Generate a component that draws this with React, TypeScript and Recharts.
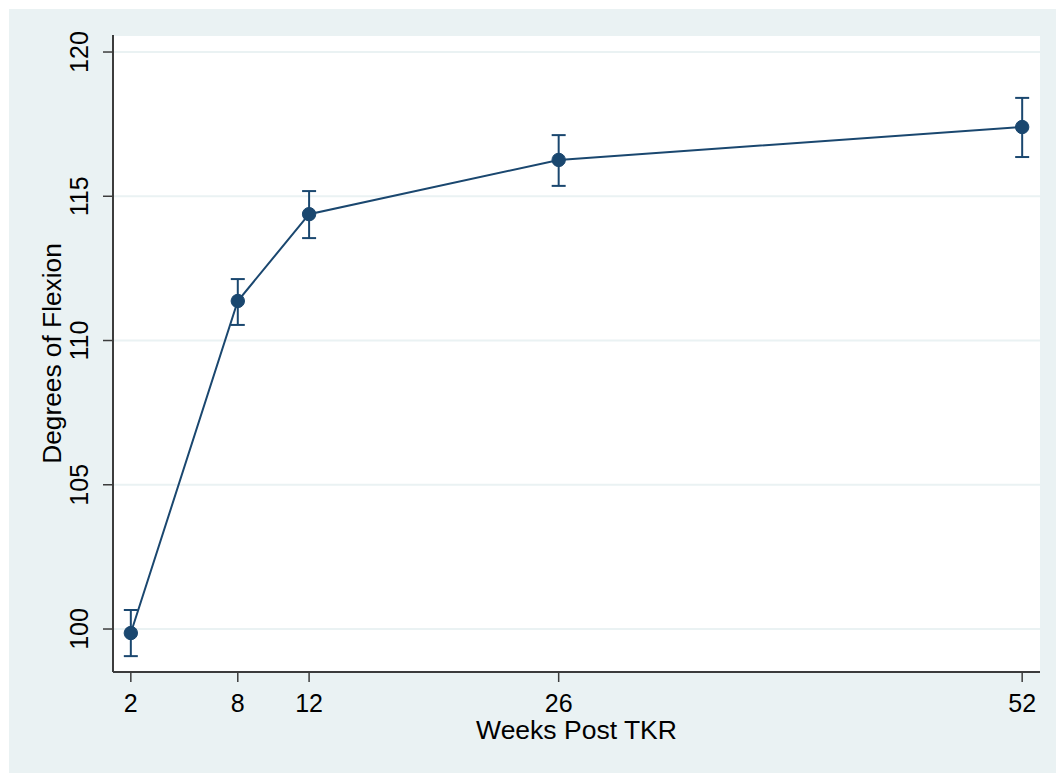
import { ComposedChart, Line, XAxis, YAxis, CartesianGrid, ErrorBar } from 'recharts';

// weeks after surgery and mean flexion with 95% CI
const weeks = [2, 8, 12, 26, 52];
const flexion = [99.86, 111.37, 114.38, 116.26, 117.4];
const ciLow = [99.06, 110.54, 113.55, 115.36, 116.36];
const ciHigh = [100.66, 112.13, 115.18, 117.12, 118.41];

const yTicks = [100, 105, 110, 115, 120];

const NAVY = '#1a476f';
const PANEL = '#eaf2f3';
const AXIS = '#3c3c3c';
const FONT = '"Liberation Sans", Arial, Helvetica, sans-serif';

const data = weeks.map((w, i) => ({
  week: w,
  mean: flexion[i],
  err: [flexion[i] - ciLow[i], ciHigh[i] - flexion[i]],
}));

const XTick = (props: any) => {
  const { x, y, payload } = props;
  return (
    <text x={x} y={y + 28} textAnchor="middle" fontSize={25} fontFamily={FONT} fill="#000">
      {payload.value}
    </text>
  );
};

const YTick = (props: any) => {
  const { x, y, payload } = props;
  const tx = x - 13;
  return (
    <text
      x={tx}
      y={y}
      transform={`rotate(-90 ${tx} ${y})`}
      textAnchor="middle"
      fontSize={25}
      fontFamily={FONT}
      fill="#000"
    >
      {payload.value}
    </text>
  );
};

const XLabel = (props: any) => {
  const vb = props.viewBox;
  return (
    <text x={vb.x + vb.width / 2} y={vb.y + 67} textAnchor="middle" fontSize={26.5} fontFamily={FONT} fill="#000">
      Weeks Post TKR
    </text>
  );
};

const YLabel = (props: any) => {
  const vb = props.viewBox;
  const cx = 61;
  const cy = vb.y + vb.height / 2;
  return (
    <text
      x={cx}
      y={cy}
      transform={`rotate(-90 ${cx} ${cy})`}
      textAnchor="middle"
      fontSize={26.3}
      fontFamily={FONT}
      fill="#000"
    >
      Degrees of Flexion
    </text>
  );
};

const App = () => {
  return (
    <div style={{ position: 'absolute', left: 0, top: 0, width: 1056, height: 773, background: '#fff' }}>
      <div style={{ position: 'absolute', left: 9, top: 9, width: 1047, height: 764, background: PANEL }} />
      <div style={{ position: 'absolute', left: 0, top: 0 }}>
        <ComposedChart width={1056} height={773} data={data} margin={{ top: 35, right: 16, bottom: 0, left: 0 }}>
          <CartesianGrid vertical={false} stroke={PANEL} strokeWidth={2} fill="#fff" fillOpacity={1} />
          <XAxis
            dataKey="week"
            type="number"
            domain={[1, 53]}
            ticks={weeks}
            height={101}
            stroke={AXIS}
            strokeWidth={2}
            tickSize={10}
            tickLine={{ stroke: AXIS, strokeWidth: 1.5 }}
            tick={<XTick />}
            label={<XLabel />}
            allowDataOverflow
          />
          <YAxis
            type="number"
            domain={[98.51, 120.59]}
            ticks={yTicks}
            width={113}
            stroke={AXIS}
            strokeWidth={2}
            tickSize={10}
            tickLine={{ stroke: AXIS, strokeWidth: 1.5 }}
            tick={<YTick />}
            label={<YLabel />}
            allowDataOverflow
          />
          <Line
            dataKey="mean"
            type="linear"
            stroke={NAVY}
            strokeWidth={2}
            dot={{ r: 6.7, fill: NAVY, stroke: NAVY, strokeWidth: 1 }}
            activeDot={false}
            isAnimationActive={false}
          >
            <ErrorBar dataKey="err" direction="y" width={7} stroke={NAVY} strokeWidth={2} />
          </Line>
        </ComposedChart>
      </div>
    </div>
  );
};

export default App;
